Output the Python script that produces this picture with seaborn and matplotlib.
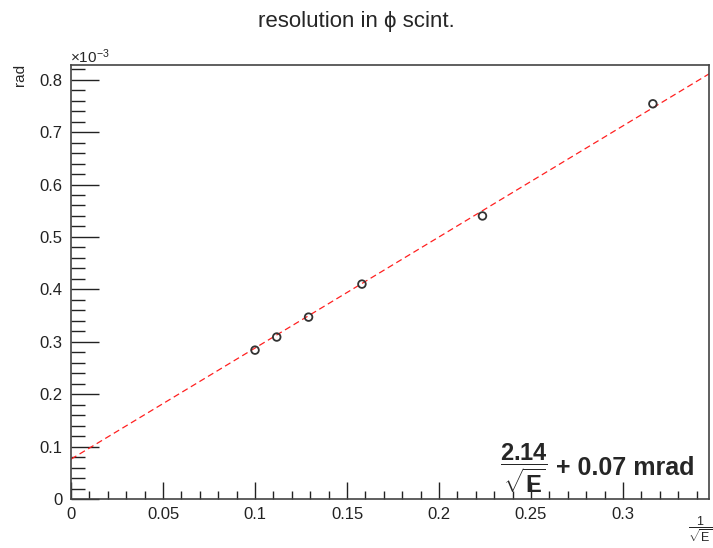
import numpy as np
import pandas as pd
import matplotlib
matplotlib.use("Agg")
import matplotlib.pyplot as plt
import seaborn as sns
from matplotlib.ticker import MultipleLocator, FuncFormatter

# data (x = 1/sqrt(E), y in 1e-3 rad)
inv_sqrt_e = [0.1, 0.1118, 0.1291, 0.1581, 0.2236, 0.3162]
resolution = [0.284, 0.309, 0.347, 0.410, 0.540, 0.754]
fit_slope = 2.12
fit_intercept = 0.076
x_range = [0.0, 0.3467]
y_range = [0.0, 0.828]

sns.set_theme(style="ticks")
plt.rcParams['font.family'] = ['Liberation Sans', 'DejaVu Sans']
plt.rcParams['mathtext.fontset'] = 'custom'
plt.rcParams['mathtext.rm'] = 'Liberation Sans'
plt.rcParams['mathtext.bf'] = 'Liberation Sans:bold'
plt.rcParams['mathtext.it'] = 'Liberation Sans:italic'

fig = plt.figure(figsize=(7.13, 5.48), dpi=100)
ax = fig.add_axes([71/713, 1-499/548, (709-71)/713, (499-65)/548])

df = pd.DataFrame({"x": inv_sqrt_e, "y": resolution})
fit_x = np.array(x_range)
fit_df = pd.DataFrame({"x": fit_x, "y": fit_slope * fit_x + fit_intercept})

sns.lineplot(data=fit_df, x="x", y="y", ax=ax, color="#ff2020", lw=0.9,
             linestyle=(0, (5, 3)), zorder=2)
sns.scatterplot(data=df, x="x", y="y", ax=ax, marker="o", s=30,
                facecolor="none", edgecolor="#333333", linewidth=1.3, zorder=3)

ax.set_xlim(*x_range)
ax.set_ylim(*y_range)
ax.xaxis.set_major_locator(MultipleLocator(0.05))
ax.xaxis.set_minor_locator(MultipleLocator(0.01))
ax.yaxis.set_major_locator(MultipleLocator(0.1))
ax.yaxis.set_minor_locator(MultipleLocator(0.02))

def fmt(v, pos):
    s = f"{v:.2f}".rstrip("0").rstrip(".")
    return "0" if abs(v) < 1e-9 else s

ax.xaxis.set_major_formatter(FuncFormatter(fmt))
ax.yaxis.set_major_formatter(FuncFormatter(fmt))

ax.tick_params(axis="x", which="major", direction="in", length=12, width=1, labelsize=12, pad=6, colors="#222222")
ax.tick_params(axis="x", which="minor", direction="in", length=6, width=1, colors="#222222")
ax.tick_params(axis="y", which="major", direction="in", length=20, width=1, labelsize=12, pad=6, colors="#222222")
ax.tick_params(axis="y", which="minor", direction="in", length=10, width=1, colors="#222222")
ax.tick_params(top=False, right=False)
for sp in ax.spines.values():
    sp.set_visible(True)
    sp.set_color("#444444")
    sp.set_linewidth(1.2)

ax.set_xlabel("")
ax.set_ylabel("")

fig.text(0.5, 1-22/548, "resolution in \u03d5 scint.", ha="center", va="center", fontsize=16)
fig.text(20/713, 1-75/548, "rad", rotation=90, ha="center", va="center", fontsize=11)
fig.text(70/713, 1-57/548, r"$\times$10$^{-3}$", ha="left", va="center", fontsize=11)
fig.text(700/713, 1-529/548, r"$\dfrac{1}{\sqrt{\mathrm{E}}}$", ha="center", va="center", fontsize=9)
fig.text(500/713, 1-468/548, r"$\mathbf{\dfrac{2.14}{\sqrt{E}}}$", ha="left", va="center",
         fontsize=17, fontweight="bold")
fig.text(556/713, 1-468/548, "+ 0.07 mrad", ha="left", va="center",
         fontsize=18, fontweight="bold")

fig.savefig("out.png", dpi=100)
